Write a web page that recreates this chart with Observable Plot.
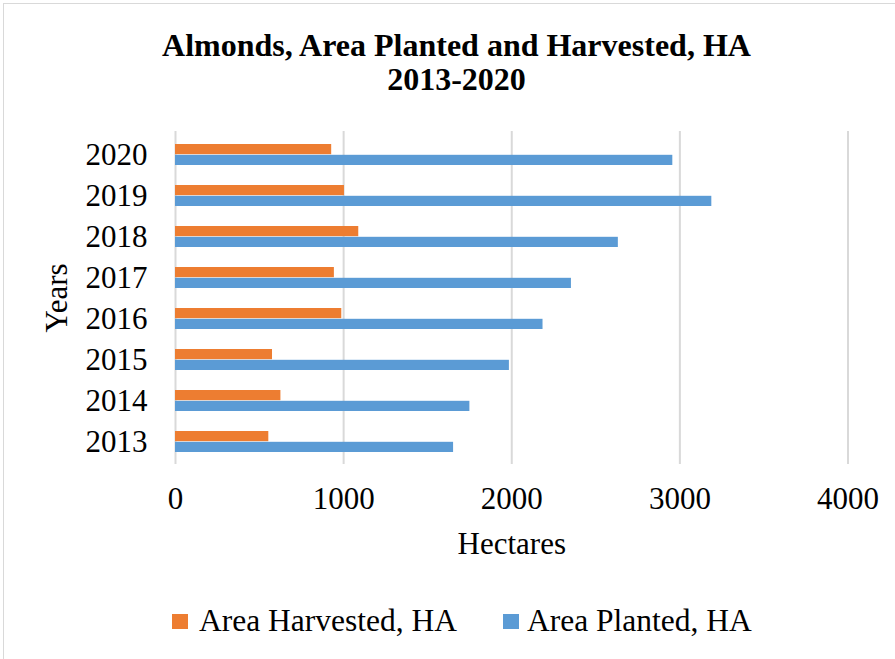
<!DOCTYPE html>
<html>
<head>
<meta charset="utf-8">
<script src="https://cdn.jsdelivr.net/npm/d3@7"></script>
<script src="https://cdn.jsdelivr.net/npm/@observablehq/plot@0.6"></script>
<style>
  html, body { margin: 0; padding: 0; background: #fff; }
  #frame { position: relative; width: 895px; height: 659px; overflow: hidden; font-family: "Liberation Serif", "Times New Roman", serif; color: #000; }
  #border { position: absolute; left: 3px; top: 3px; width: 900px; height: 660px; border: 1.5px solid #d9d9d9; box-sizing: border-box; }
  #title { position: absolute; left: 9px; width: 895px; top: 28px; text-align: center; font-weight: bold; font-size: 32px; line-height: 34px; }
  #chart { position: absolute; left: 0; top: 110px; }
  .item { position: absolute; top: 603px; height: 36px; font-size: 31.5px; line-height: 36px; white-space: nowrap; }
  .sw { position: absolute; left: 0; top: 11px; width: 16px; height: 15px; }
  .lt { position: absolute; top: 0; }
</style>
</head>
<body>
<div id="frame">
  <div id="border"></div>
  <div id="title">Almonds, Area Planted and Harvested, HA<br>2013-2020</div>
  <div id="chart"></div>
  <div id="legend"></div>
</div>
<script>
const years = ["2013", "2014", "2015", "2016", "2017", "2018", "2019", "2020"];
const harvested = [555, 627, 577, 989, 945, 1090, 1005, 929];
const planted = [1654, 1751, 1986, 2186, 2355, 2634, 3190, 2958];
const seriesNames = ["Area Harvested, HA", "Area Planted, HA"];
const seriesColors = ["#ED7D31", "#5B9BD5"];
const xTicks = [0, 1000, 2000, 3000, 4000];
const xTitle = "Hectares";
const yTitle = "Years";

const harvRows = years.map((y, i) => ({year: y, value: harvested[i]}));
const plantRows = years.map((y, i) => ({year: y, value: planted[i]}));

const chart = Plot.plot({
  width: 895,
  height: 460,
  marginTop: 21,
  marginBottom: 106,
  marginLeft: 175,
  marginRight: 47.5,
  style: {fontFamily: '"Liberation Serif", "Times New Roman", serif', fontSize: "31px", color: "#000", background: "transparent"},
  x: {domain: [0, 4000]},
  y: {domain: years.slice().reverse(), padding: 0},
  marks: [
    Plot.gridX(xTicks, {stroke: "#d9d9d9", strokeOpacity: 1, strokeWidth: 2}),
    Plot.barX(harvRows, {x: "value", y: "year", fill: seriesColors[0], insetTop: 15.4, insetBottom: 15.4, dy: -5.4}),
    Plot.barX(plantRows, {x: "value", y: "year", fill: seriesColors[1], insetTop: 15.4, insetBottom: 15.4, dy: 5.4}),
    Plot.axisX(xTicks, {tickSize: 0, tickPadding: 22, tickFormat: d => String(d), label: null, fontSize: 31}),
    Plot.axisY({tickSize: 0, tickPadding: 28, label: null, fontSize: 31}),
    Plot.text([xTitle], {text: d => d, frameAnchor: "bottom", textAnchor: "middle", dy: 89, fontSize: 31}),
    Plot.text([yTitle], {text: d => d, frameAnchor: "left", textAnchor: "middle", dx: -118, rotate: -90, fontSize: 31})
  ]
});
document.getElementById("chart").appendChild(chart);

const legend = document.getElementById("legend");
const legendLeft = [172, 503];
seriesNames.forEach((name, i) => {
  const item = document.createElement("div");
  item.className = "item";
  item.style.left = legendLeft[i] + "px";
  const sw = document.createElement("div");
  sw.className = "sw";
  sw.style.background = seriesColors[i];
  const t = document.createElement("span");
  t.className = "lt";
  t.style.left = (i === 0 ? 27 : 24) + "px";
  t.textContent = name;
  item.appendChild(sw);
  item.appendChild(t);
  legend.appendChild(item);
});
</script>
</body>
</html>
